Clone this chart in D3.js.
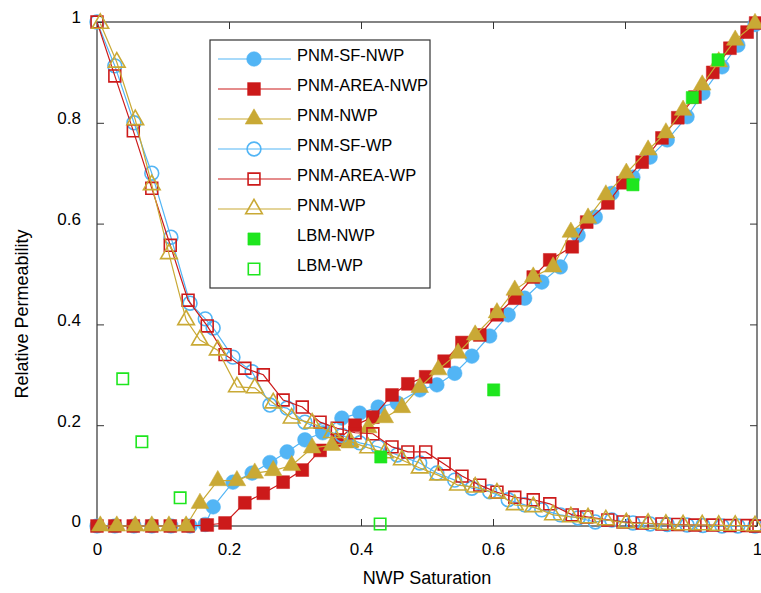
<!DOCTYPE html>
<html>
<head>
<meta charset="utf-8">
<script src="https://cdn.jsdelivr.net/npm/d3@7"></script>
<style>
  body { margin: 0; background: #fff; }
  text { font-family: "Liberation Sans", Arial, sans-serif; fill: #000; }
</style>
</head>
<body>
<div id="chart"></div>
<script>
// --- data (saturation on x, relative permeability on y) ---
const sfX      = [0,0.027,0.056,0.083,0.112,0.141,0.164,0.176,0.206,0.235,0.262,0.288,0.315,0.342,0.371,0.398,0.426,0.455,0.489,0.515,0.542,0.568,0.595,0.623,0.648,0.674,0.702,0.729,0.755,0.780,0.812,0.838,0.864,0.894,0.918,0.947,0.971,0.997];
const sfNwp    = [0,0,0,0,0,0,0.003,0.038,0.087,0.105,0.126,0.147,0.171,0.185,0.214,0.224,0.236,0.244,0.27,0.28,0.303,0.337,0.377,0.419,0.452,0.484,0.514,0.577,0.613,0.66,0.692,0.732,0.766,0.812,0.859,0.911,0.954,0.995];
const sfWp     = [1.0,0.913,0.80,0.70,0.573,0.442,0.411,0.393,0.335,0.306,0.24,0.234,0.206,0.19,0.18,0.165,0.157,0.141,0.125,0.105,0.091,0.075,0.068,0.052,0.042,0.032,0.022,0.016,0.008,0.012,0.006,0.004,0.003,0.002,0.001,0,0,0];

const areaX    = [0,0.027,0.055,0.083,0.111,0.138,0.167,0.194,0.224,0.252,0.282,0.311,0.338,0.364,0.391,0.418,0.447,0.471,0.498,0.526,0.553,0.580,0.606,0.633,0.661,0.686,0.720,0.742,0.774,0.797,0.826,0.856,0.880,0.906,0.933,0.959,0.985,0.998];
const areaNwp  = [0,0,0,0,0,0,0.002,0.006,0.046,0.065,0.087,0.111,0.15,0.17,0.2,0.216,0.26,0.282,0.296,0.327,0.364,0.379,0.419,0.452,0.494,0.528,0.554,0.603,0.641,0.681,0.722,0.77,0.81,0.851,0.9,0.948,0.98,0.998];
const areaWp   = [1.0,0.893,0.784,0.67,0.557,0.448,0.397,0.34,0.313,0.3,0.25,0.236,0.206,0.194,0.185,0.183,0.157,0.147,0.147,0.123,0.099,0.081,0.067,0.057,0.052,0.044,0.022,0.018,0.012,0.008,0.006,0.004,0.003,0.002,0.002,0.001,0.001,0];

const pnmX     = [0.005,0.030,0.058,0.083,0.109,0.135,0.156,0.183,0.212,0.239,0.267,0.295,0.326,0.356,0.383,0.411,0.436,0.462,0.489,0.517,0.547,0.573,0.606,0.633,0.661,0.691,0.718,0.744,0.771,0.802,0.835,0.862,0.888,0.917,0.942,0.967,0.997];
const pnmNwp   = [0,0,0,0,0,0,0.045,0.09,0.09,0.105,0.11,0.12,0.155,0.16,0.165,0.195,0.215,0.235,0.275,0.31,0.343,0.379,0.423,0.468,0.494,0.514,0.583,0.611,0.657,0.70,0.746,0.78,0.825,0.875,0.921,0.964,0.997];
const pnmWp    = [0.997,0.92,0.806,0.677,0.54,0.409,0.369,0.349,0.276,0.274,0.244,0.214,0.204,0.185,0.168,0.155,0.145,0.131,0.115,0.101,0.081,0.077,0.065,0.042,0.038,0.022,0.018,0.016,0.012,0.006,0.005,0.003,0.002,0.002,0.001,0.001,0];

const lbmNwpX  = [0.43,0.601,0.812,0.902,0.941];
const lbmNwp   = [0.137,0.27,0.677,0.85,0.925];
const lbmWpX   = [0.039,0.068,0.126,0.429];
const lbmWp    = [0.292,0.167,0.056,0.004];

const xTicks = [0, 0.2, 0.4, 0.6, 0.8, 1];
const yTicks = [0, 0.2, 0.4, 0.6, 0.8, 1];

// --- colours ---
const blue = "#52b5f5", red = "#cc1a1a", gold = "#c9a935", green = "#1ee61e";

// --- sizing ---
const W = 761, H = 593;
const margin = { top: 22, right: 4, bottom: 67, left: 97 },
      width  = W - margin.left - margin.right,
      height = H - margin.top - margin.bottom;

const svg = d3.select("#chart").append("svg")
  .attr("width", W).attr("height", H)
  .append("g")
  .attr("transform", `translate(${margin.left},${margin.top})`);

const x = d3.scaleLinear().domain([0, 1]).range([0, width]);
const y = d3.scaleLinear().domain([0, 1]).range([height, 0]);
const fmt = d3.format("~g");

// --- axes (ticks point inward) ---
const axisStyle = g => {
  g.select(".domain").remove();
  g.selectAll("line").attr("stroke", "#333");
  g.selectAll("text").style("font-size", "17px").attr("fill", "#000");
};
svg.append("g").attr("transform", `translate(0,${height})`)
  .call(d3.axisBottom(x).tickValues(xTicks).tickFormat(fmt).tickSize(-7).tickPadding(17))
  .call(axisStyle);
svg.append("g")
  .call(d3.axisLeft(y).tickValues(yTicks).tickFormat(fmt).tickSize(-7).tickPadding(16))
  .call(axisStyle)
  .selectAll("text").attr("dy", "0.05em");
svg.append("g")
  .call(d3.axisTop(x).tickValues(xTicks).tickFormat("").tickSize(-7))
  .call(axisStyle);
svg.append("g").attr("transform", `translate(${width},0)`)
  .call(d3.axisRight(y).tickValues(yTicks).tickFormat("").tickSize(-7))
  .call(axisStyle);

svg.append("rect")
  .attr("width", width).attr("height", height)
  .attr("fill", "none").attr("stroke", "#333").attr("stroke-width", 1.2);

// axis titles
svg.append("text")
  .attr("x", width / 2).attr("y", height + 58)
  .attr("text-anchor", "middle")
  .style("font-size", "18px")
  .text("NWP Saturation");
svg.append("text")
  .attr("transform", `translate(${-69},${292}) rotate(-90)`)
  .attr("text-anchor", "middle")
  .style("font-size", "18px")
  .text("Relative Permeability");

// --- series ---
const series = [
  { name: "PNM-SF-NWP",   xs: sfX,   ys: sfNwp,   color: blue, shape: d3.symbolCircle,   size: 170, filled: true,  line: true },
  { name: "PNM-AREA-NWP", xs: areaX, ys: areaNwp, color: red,  shape: d3.symbolSquare,   size: 165, filled: true,  line: true },
  { name: "PNM-NWP",      xs: pnmX,  ys: pnmNwp,  color: gold, shape: d3.symbolTriangle, size: 135, filled: true,  line: true },
  { name: "PNM-SF-WP",    xs: sfX,   ys: sfWp,    color: blue, shape: d3.symbolCircle,   size: 150, filled: false, line: true },
  { name: "PNM-AREA-WP",  xs: areaX, ys: areaWp,  color: red,  shape: d3.symbolSquare,   size: 140, filled: false, line: true },
  { name: "PNM-WP",       xs: pnmX,  ys: pnmWp,   color: gold, shape: d3.symbolTriangle, size: 120, filled: false, line: true },
  { name: "LBM-NWP",      xs: lbmNwpX, ys: lbmNwp, color: green, shape: d3.symbolSquare, size: 150, filled: true,  line: false },
  { name: "LBM-WP",       xs: lbmWpX,  ys: lbmWp,  color: green, shape: d3.symbolSquare, size: 130, filled: false, line: false }
];

const line = d3.line().x(d => x(d[0])).y(d => y(d[1]));

series.forEach(s => {
  const pts = s.xs.map((v, i) => [v, s.ys[i]]);
  const g = svg.append("g");
  if (s.line) {
    g.append("path")
      .attr("d", line(pts))
      .attr("fill", "none")
      .attr("stroke", s.color)
      .attr("stroke-width", 1.2);
  }
  g.selectAll("path.mark").data(pts).enter().append("path")
    .attr("class", "mark")
    .attr("transform", d => `translate(${x(d[0])},${y(d[1])})`)
    .attr("d", d3.symbol().type(s.shape).size(s.size))
    .attr("fill", s.filled ? s.color : "none")
    .attr("stroke", s.color)
    .attr("stroke-width", s.filled ? 0.5 : 1.6);
});

// --- legend ---
const lg = svg.append("g").attr("transform", `translate(${210 - margin.left},${40 - margin.top})`);
lg.append("rect")
  .attr("width", 220).attr("height", 248)
  .attr("fill", "#fff").attr("stroke", "#333").attr("stroke-width", 1.2);

series.forEach((s, i) => {
  const cy = 19 + i * 30;
  const row = lg.append("g").attr("transform", `translate(0,${cy})`);
  if (s.line) {
    row.append("line")
      .attr("x1", 8).attr("x2", 81)
      .attr("stroke", s.color).attr("stroke-width", 1.2);
  }
  row.append("path")
    .attr("transform", "translate(44,0)")
    .attr("d", d3.symbol().type(s.shape).size(s.size))
    .attr("fill", s.filled ? s.color : "none")
    .attr("stroke", s.color)
    .attr("stroke-width", s.filled ? 0.5 : 1.6);
  row.append("text")
    .attr("x", 87).attr("y", 0)
    .attr("dy", "0.12em")
    .style("font-size", "16.5px")
    .text(s.name);
});
</script>
</body>
</html>
